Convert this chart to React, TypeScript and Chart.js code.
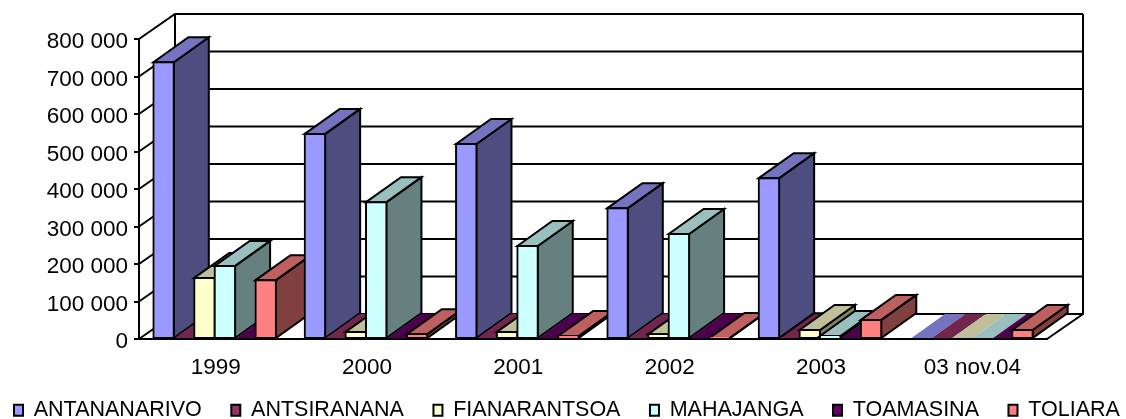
import React, { useEffect, useRef } from "react";
import { Chart, registerables } from "chart.js";

Chart.register(...registerables);

const categories = ["1999", "2000", "2001", "2002", "2003", "03 nov.04"];
const seriesNames = ["ANTANANARIVO", "ANTSIRANANA", "FIANARANTSOA", "MAHAJANGA", "TOAMASINA", "TOLIARA"];
const antananarivo = [738000, 547000, 520000, 349000, 429000, 0];
const antsiranana = [0, 0, 0, 0, 2000, 0];
const fianarantsoa = [163000, 19000, 19000, 13000, 24000, 0];
const mahajanga = [195000, 365000, 248000, 280000, 8000, 0];
const toamasina = [0, 0, 0, 0, 0, 0];
const toliara = [157000, 13000, 8000, 3000, 51000, 24000];
const seriesValues = [antananarivo, antsiranana, fianarantsoa, mahajanga, toamasina, toliara];
const frontColors = ["#9999FF", "#993366", "#FFFFCC", "#CCFFFF", "#660066", "#FF8080"];
const topColors = ["#7373BF", "#73264D", "#BFBF99", "#99BFBF", "#4D004D", "#BF6060"];
const sideColors = ["#4D4D80", "#4D1A33", "#808066", "#668080", "#330033", "#804040"];

const WALL_DX = 36;
const WALL_DY = -25;
const BAR_DX = 35;
const BAR_DY = -25;
const FONT = "'Liberation Sans', Arial, sans-serif";

function poly(ctx: CanvasRenderingContext2D, pts: number[][], fill: string, stroke: boolean) {
  ctx.beginPath();
  pts.forEach((p, i) => (i ? ctx.lineTo(p[0], p[1]) : ctx.moveTo(p[0], p[1])));
  ctx.closePath();
  ctx.fillStyle = fill;
  ctx.fill();
  if (stroke) ctx.stroke();
}

const threeD = {
  id: "threeD",
  beforeLayout(chart: any) {
    const legend = chart.legend;
    if (legend && !legend.__patched) {
      legend.__patched = true;
      const fit = legend.fit;
      legend.fit = function () {
        this.maxWidth = 1400;
        fit.call(this);
        this.width = 1047;
        this.height = 35;
      };
    }
  },
  afterLayout(chart: any) {
    const legend = chart.legend;
    const pad = legend.options.labels.padding;
    legend.left = 14 - pad;
    legend.right = 1400;
    legend.top = 370;
  },
  beforeDatasetsDraw(chart: any) {
    const { ctx, scales } = chart;
    const y = scales.y;
    const area = chart.chartArea;
    ctx.save();
    ctx.strokeStyle = "#000";
    ctx.lineWidth = 2;
    ctx.lineJoin = "miter";
    // back wall, grid lines and the diagonals from the axis
    y.ticks.forEach((t: any) => {
      const py = y.getPixelForValue(t.value);
      ctx.beginPath();
      ctx.moveTo(area.left, py);
      ctx.lineTo(area.left + WALL_DX, py + WALL_DY);
      ctx.lineTo(area.right + WALL_DX, py + WALL_DY);
      ctx.stroke();
    });
    ctx.beginPath();
    ctx.moveTo(area.left + WALL_DX, area.bottom + WALL_DY);
    ctx.lineTo(area.left + WALL_DX, area.top + WALL_DY);
    ctx.moveTo(area.right + WALL_DX, area.top + WALL_DY);
    ctx.lineTo(area.right + WALL_DX, area.bottom + WALL_DY);
    ctx.lineTo(area.right, area.bottom);
    ctx.stroke();
    // bars, category by category, left to right
    categories.forEach((_c, i) => {
      seriesValues.forEach((values, d) => {
        const el = chart.getDatasetMeta(d).data[i];
        const p = el.getProps(["x", "y", "base", "width"], true);
        const l = p.x - p.width / 2;
        const r = p.x + p.width / 2;
        const zero = values[i] === 0;
        if (!zero) {
          poly(ctx, [[r, p.y], [r + BAR_DX, p.y + BAR_DY], [r + BAR_DX, p.base + BAR_DY], [r, p.base]], sideColors[d], true);
        }
        poly(ctx, [[l, p.y], [l + BAR_DX, p.y + BAR_DY], [r + BAR_DX, p.y + BAR_DY], [r, p.y]], topColors[d], !zero);
        if (!zero) el.draw(ctx, area);
      });
    });
    // the base line stays on top of the floor marks
    ctx.beginPath();
    ctx.moveTo(area.left, area.bottom);
    ctx.lineTo(area.right, area.bottom);
    ctx.stroke();
    ctx.restore();
    return false;
  },
};

export default function App() {
  const ref = useRef<HTMLCanvasElement>(null);
  useEffect(() => {
    const chart = new Chart(ref.current as HTMLCanvasElement, {
      type: "bar",
      data: {
        labels: categories,
        datasets: seriesNames.map((name, d) => ({
          label: name,
          data: seriesValues[d],
          backgroundColor: frontColors[d],
          borderColor: "#000",
          borderWidth: 2,
          borderSkipped: false,
          inflateAmount: 1,
          barPercentage: 1,
          categoryPercentage: 0.81,
        })),
      },
      options: {
        animation: false,
        responsive: false,
        layout: { padding: { left: 0, right: 79, top: 39, bottom: 0 } },
        plugins: {
          title: { display: false },
          tooltip: { enabled: false },
          legend: {
            display: true,
            position: "bottom",
            align: "start",
            labels: {
              boxWidth: 9,
              boxHeight: 11,
              padding: 29.5,
              color: "#000",
              font: { family: FONT, size: 21.5 },
            },
          },
        },
        scales: {
          x: {
            grid: { display: false, drawTicks: false },
            border: { display: true, color: "#000", width: 2 },
            ticks: { color: "#000", font: { family: FONT, size: 22.5 }, padding: 15, labelOffset: 1, maxRotation: 0, autoSkip: false },
            afterFit: (s: any) => {
              s.height = 45;
            },
          },
          y: {
            min: 0,
            max: 800000,
            grid: { drawOnChartArea: false, drawTicks: true, tickLength: 5, color: "#000", lineWidth: 2 },
            border: { display: true, color: "#000", width: 2 },
            ticks: {
              stepSize: 100000,
              color: "#000",
              padding: 6,
              labelOffset: 3,
              font: { family: FONT, size: 22.5 },
              callback: (v: any) => (v === 0 ? "0" : `${v / 1000} 000`),
            },
            afterFit: (s: any) => {
              s.width = 139;
            },
          },
        },
      },
      plugins: [threeD],
    } as any);
    return () => chart.destroy();
  }, []);
  return (
    <canvas
      ref={ref}
      width={1126}
      height={419}
      style={{ position: "absolute", left: 0, top: 0, display: "block" }}
    />
  );
}
